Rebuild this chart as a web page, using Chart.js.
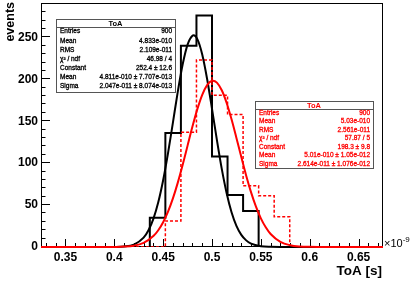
<!DOCTYPE html>
<html>
<head>
<meta charset="utf-8">
<script src="https://cdn.jsdelivr.net/npm/chart.js@4"></script>
<style>
  body { margin: 0; background: #fff; }
  canvas { display: block; }
</style>
</head>
<body>
<canvas id="myChart" width="415" height="281"></canvas>
<script>
// histogram definition (x in units of 1e-9 s)
const nBins = 22;
const histMin = 0.325;
const histMax = 0.675;

// bin contents, 22 bins each
const blackCounts = [0, 0, 0, 0, 0, 0, 0, 35, 136, 240, 276, 108, 62, 43, 0, 0, 0, 0, 0, 0, 0, 0];
const redCounts = [0, 0, 0, 0, 0, 0, 0, 0, 31, 137, 223, 181, 158, 73, 61, 36, 0, 0, 0, 0, 0, 0];

// gaussian fit curves
const blackFitX = [0.325, 0.38, 0.39, 0.40, 0.41, 0.42, 0.43, 0.435, 0.44, 0.445, 0.45, 0.455, 0.46, 0.465, 0.47, 0.475, 0.48, 0.4811, 0.485, 0.49, 0.495, 0.50, 0.505, 0.51, 0.515, 0.52, 0.525, 0.53, 0.535, 0.54, 0.55, 0.56, 0.57, 0.675];
const blackFitY = [0, 0, 0.01, 0.1, 0.6, 2.9, 11.2, 20.0, 33.6, 53.3, 79.6, 111.9, 148.4, 185.3, 217.9, 241.4, 252.0, 252.4, 247.9, 229.6, 200.4, 164.8, 127.7, 93.1, 64.1, 41.5, 25.3, 14.5, 7.9, 4.0, 0.9, 0.15, 0.02, 0];
const redFitX = [0.325, 0.37, 0.38, 0.39, 0.40, 0.41, 0.42, 0.43, 0.44, 0.445, 0.45, 0.455, 0.46, 0.465, 0.47, 0.475, 0.48, 0.485, 0.49, 0.495, 0.50, 0.501, 0.505, 0.51, 0.515, 0.52, 0.525, 0.53, 0.535, 0.54, 0.545, 0.55, 0.555, 0.56, 0.57, 0.58, 0.59, 0.60, 0.61, 0.62, 0.675];
const redFitY = [0, 0, 0.004, 0.02, 0.11, 0.46, 1.6, 5.0, 13.0, 20.0, 29.6, 42.2, 58.0, 76.8, 98.1, 120.9, 143.6, 164.4, 181.5, 193.1, 198.2, 198.3, 196.0, 186.9, 171.8, 152.3, 130.1, 107.2, 85.1, 65.2, 48.1, 34.2, 23.5, 15.5, 6.1, 2.1, 0.6, 0.15, 0.03, 0, 0];

// axes
const xTicks = [0.35, 0.4, 0.45, 0.5, 0.55, 0.6, 0.65];
const yTicks = [0, 50, 100, 150, 200, 250];
const yMax = 291;

// stat boxes
const statLabels = ["Entries", "Mean", "RMS", "\u03C7\u00B2 / ndf", "Constant", "Mean", "Sigma"];
const blackStats = ["900", "4.833e-010", "2.109e-011", "46.98 / 4", "252.4 \u00B1 12.6", "4.811e-010 \u00B1 7.707e-013", "2.047e-011 \u00B1 8.074e-013"];
const redStats = ["900", "5.03e-010", "2.561e-011", "57.87 / 5", "198.3 \u00B1 9.8", "5.01e-010 \u00B1 1.05e-012", "2.614e-011 \u00B1 1.076e-012"];

function histPoints(counts) {
    let w = (histMax - histMin) / nBins;
    let pts = [];
    counts.forEach((c, i) => {
        pts.push({ x: histMin + i * w, y: c });
    });
    pts.push({ x: histMax, y: counts[counts.length - 1] });
    return pts;
}

function curvePoints(xs, ys) {
    return xs.map((x, i) => ({ x: x, y: ys[i] }));
}

function boldText(ctx, s, x, y) {
    ctx.fillText(s, x, y);
    ctx.strokeText(s, x, y);
}

function drawStatBox(ctx, b, color, values) {
    ctx.save();
    ctx.fillStyle = "#fff";
    ctx.fillRect(b.x, b.y, b.w, b.h);
    ctx.strokeStyle = "#555";
    ctx.lineWidth = 1;
    ctx.strokeRect(b.x + 0.5, b.y + 0.5, b.w, b.h);
    ctx.beginPath();
    ctx.moveTo(b.x, b.sep + 0.5);
    ctx.lineTo(b.x + b.w, b.sep + 0.5);
    ctx.stroke();
    ctx.fillStyle = color;
    ctx.strokeStyle = color;
    ctx.lineWidth = 0.3;
    ctx.textBaseline = "middle";
    ctx.font = "bold 7.5px 'Liberation Sans', Arial, sans-serif";
    ctx.textAlign = "center";
    ctx.fillText("ToA", b.x + b.w / 2, b.y + (b.sep - b.y) / 2 + 0.5);
    ctx.font = "6.5px 'Liberation Sans', Arial, sans-serif";
    for (let i = 0; i < statLabels.length; i++) {
        let y = b.row0 + i * b.step;
        ctx.textAlign = "left";
        boldText(ctx, statLabels[i], b.x + 4, y);
        ctx.textAlign = "right";
        boldText(ctx, values[i], b.x + b.w - 3, y);
    }
    ctx.restore();
}

const rootFrame = {
    id: "rootFrame",
    beforeDatasetsDraw(chart) {
        const ctx = chart.ctx, a = chart.chartArea;
        const xs = chart.scales.x, ys = chart.scales.y;
        ctx.save();
        ctx.strokeStyle = "#000";
        ctx.lineWidth = 1;
        ctx.strokeRect(a.left + 0.5, a.top + 0.5, a.right - a.left - 1, a.bottom - a.top - 1);
        ctx.beginPath();
        // x ticks, pointing up into the frame
        for (let i = 33; i <= 67; i++) {
            let px = Math.round(xs.getPixelForValue(i / 100)) + 0.5;
            let len = i % 5 == 0 ? 8 : 4;
            ctx.moveTo(px, a.bottom);
            ctx.lineTo(px, a.bottom - len);
        }
        // y ticks, pointing right into the frame
        for (let v = 0; v <= 290; v += 10) {
            let py = Math.round(ys.getPixelForValue(v)) - 0.5;
            let len = v % 50 == 0 ? 9 : 4.5;
            ctx.moveTo(a.left, py);
            ctx.lineTo(a.left + len, py);
        }
        ctx.stroke();
        ctx.restore();
    },
    afterDraw(chart) {
        const ctx = chart.ctx, a = chart.chartArea;
        ctx.save();
        ctx.fillStyle = "#000";
        // y title
        ctx.font = "bold 12.5px 'Liberation Sans', Arial, sans-serif";
        ctx.translate(14, 2);
        ctx.rotate(-Math.PI / 2);
        ctx.textAlign = "right";
        ctx.textBaseline = "alphabetic";
        ctx.fillText("events", 0, 0);
        ctx.restore();

        ctx.save();
        ctx.fillStyle = "#000";
        ctx.font = "bold 13.5px 'Liberation Sans', Arial, sans-serif";
        ctx.textAlign = "right";
        ctx.textBaseline = "alphabetic";
        ctx.fillText("ToA [s]", a.right - 1, 275);
        // exponent label
        ctx.font = "11px 'Liberation Sans', Arial, sans-serif";
        ctx.textAlign = "left";
        ctx.fillText("\u00D710", a.right + 1, a.bottom);
        let w = ctx.measureText("\u00D710").width;
        ctx.font = "8px 'Liberation Sans', Arial, sans-serif";
        ctx.fillText("-9", a.right + 1 + w, a.bottom - 5);
        ctx.restore();

        drawStatBox(ctx, { x: 56, y: 19, w: 119, h: 73, sep: 27, row0: 31.7, step: 9.05 }, "#000", blackStats);
        drawStatBox(ctx, { x: 255, y: 101, w: 118, h: 67, sep: 109, row0: 113.2, step: 8.45 }, "#f00", redStats);
    }
};

function noPad(s) {
    s.paddingTop = 0;
    s.paddingBottom = 0;
    s.paddingLeft = 0;
    s.paddingRight = 0;
}

const tickFont = { family: "'Liberation Sans', Arial, sans-serif", weight: "bold", size: 12 };

var ctx = document.getElementById("myChart").getContext("2d");
var myChart = new Chart(ctx, {
    type: "line",
    data: {
        datasets: [{
            label: "red fit",
            data: curvePoints(redFitX, redFitY),
            borderColor: "#ff0000",
            borderWidth: 2,
            cubicInterpolationMode: "monotone",
            clip: false,
        }, {
            label: "black fit",
            data: curvePoints(blackFitX, blackFitY),
            borderColor: "#000",
            borderWidth: 2,
            cubicInterpolationMode: "monotone",
            clip: false,
        }, {
            label: "red ToA",
            data: histPoints(redCounts),
            borderColor: "#ff0000",
            borderWidth: 1.5,
            borderDash: [3, 2],
            stepped: "before",
        }, {
            label: "black ToA",
            data: histPoints(blackCounts),
            borderColor: "#000",
            borderWidth: 2,
            stepped: "before",
        }, ],
    },
    options: {
        responsive: false,
        animation: false,
        devicePixelRatio: 1,
        layout: { padding: { top: 3, right: 32, left: 0, bottom: 0 } },
        elements: { point: { radius: 0 } },
        plugins: { legend: { display: false }, tooltip: { enabled: false } },
        scales: {
            x: {
                type: "linear",
                min: histMin,
                max: histMax,
                grid: { display: false, drawTicks: false },
                border: { display: false },
                afterBuildTicks: (s) => { s.ticks = xTicks.map(v => ({ value: v })); },
                afterFit: (s) => { s.height = 34; noPad(s); },
                ticks: {
                    color: "#000",
                    font: tickFont,
                    padding: 3,
                    maxRotation: 0,
                    autoSkip: false,
                    callback: (v) => String(v),
                },
            },
            y: {
                min: 0,
                max: yMax,
                grid: { display: false, drawTicks: false },
                border: { display: false },
                afterBuildTicks: (s) => { s.ticks = yTicks.map(v => ({ value: v })); },
                afterFit: (s) => { s.width = 41; noPad(s); },
                ticks: {
                    color: "#000",
                    font: tickFont,
                    padding: 3,
                    autoSkip: false,
                    callback: (v) => String(v),
                },
            },
        },
    },
    plugins: [rootFrame],
});
</script>
</body>
</html>
